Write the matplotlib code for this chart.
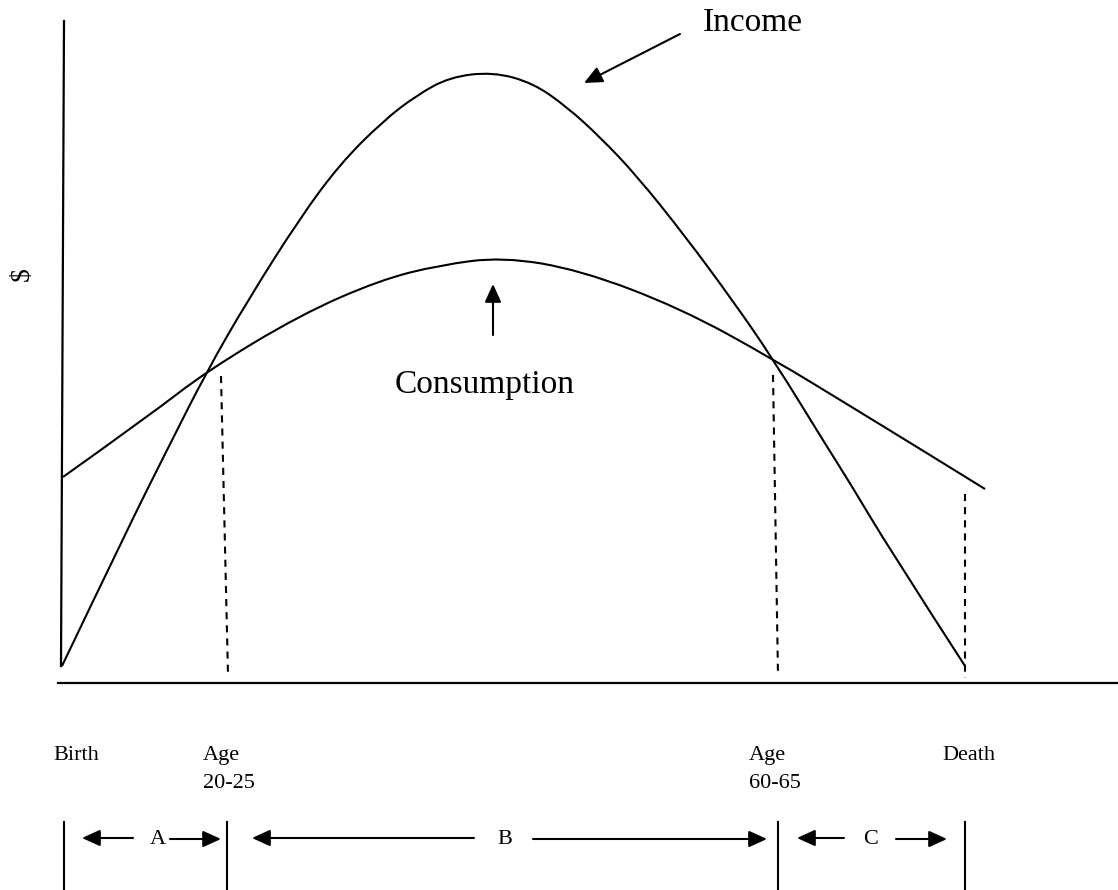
import numpy as np
import matplotlib
matplotlib.use("Agg")
import matplotlib.pyplot as plt
from matplotlib.path import Path
from matplotlib.patches import PathPatch

# life-cycle schematic, x = position along the age line, y = $ height above the axis
income_x = [62, 127, 167, 207, 248, 300, 340, 383, 417, 450, 493, 533, 567, 600, 637, 685, 733, 773, 829, 850, 890, 965]
income_y = [17, 153, 233, 312, 383, 465, 519, 562, 588, 606, 611, 600, 576, 546, 507, 447, 382, 324, 233, 200, 133, 17]

cons_x = [63, 150, 207, 300, 380, 440, 503, 580, 680, 773, 850, 917, 985]
cons_y = [206, 268, 312, 368, 403, 418, 426, 413, 375, 324, 277, 236, 194]

# dashed drop lines: (x_top, y_top, x_bottom, y_bottom)
drops = [(221, 307, 228, 8), (773, 308, 778, 8), (965, 189, 965, 5)]

stage_x = [53, 203, 749, 942]
stage_line1 = ["Birth", "Age", "Age", "Death"]
stage_line2 = ["", "20-25", "60-65", ""]

bars_x = [64, 227, 778, 965]
period_labels = ["A", "B", "C"]
period_x = [158, 505, 871]
# arrow pairs per period: (left tip, left tail, right tail, right tip)
period_arrows = [(82, 133, 170, 221), (252, 474, 533, 767), (797, 844, 896, 947)]

plt.rcParams['font.family'] = ['Liberation Serif', 'DejaVu Serif']


def smooth_curve(xs, ys):
    # quadratic spline through the read points (points used as control vertices)
    pts = list(zip(xs, ys))
    verts = [pts[0]]
    codes = [Path.MOVETO]
    for i in range(1, len(pts) - 1):
        nxt = pts[i + 1] if i == len(pts) - 2 else ((pts[i][0] + pts[i + 1][0]) / 2, (pts[i][1] + pts[i + 1][1]) / 2)
        verts += [pts[i], nxt]
        codes += [Path.CURVE3, Path.CURVE3]
    return Path(verts, codes)


fig = plt.figure(figsize=(11.18, 8.90), dpi=100)
ax = fig.add_axes([0, 0, 1, 1])
ax.set_xlim(0, 1118)
ax.set_ylim(-207, 683)
ax.axis('off')

# axes
ax.plot([64, 61], [662, 17], 'k', lw=1.6)
ax.plot([58, 1118], [0, 0], 'k', lw=1.6)
ax.text(22, 409, "$", rotation=90, fontsize=20, ha='center', va='center')

ax.add_patch(PathPatch(smooth_curve(income_x, income_y), fc='none', ec='k', lw=1.5))
ax.add_patch(PathPatch(smooth_curve(cons_x, cons_y), fc='none', ec='k', lw=1.5))

for x0, y0, x1, y1 in drops:
    ax.plot([x0, x1], [y0, y1], 'k', lw=1.5, dashes=(3.4, 2.9))

arrow_style = dict(arrowstyle='-|>,head_length=0.55,head_width=0.25', mutation_scale=20,
                   lw=1.5, color='k', shrinkA=0, shrinkB=0)

ax.text(703, 652, "Income", fontsize=24, ha='left', va='baseline')
ax.annotate('', xy=(584, 600), xytext=(680, 649), arrowprops=arrow_style)

ax.text(485, 290, "Consumption", fontsize=24, ha='center', va='baseline')
ax.annotate('', xy=(493, 399), xytext=(493, 348), arrowprops=arrow_style)

for x, l1, l2 in zip(stage_x, stage_line1, stage_line2):
    ax.text(x, -77, l1, fontsize=16, ha='left', va='baseline')
    ax.text(x, -105, l2, fontsize=16, ha='left', va='baseline')

for x in bars_x:
    ax.plot([x, x], [-139, -207], 'k', lw=1.5)

for x, lab, (lt, ltail, rtail, rt) in zip(period_x, period_labels, period_arrows):
    ax.text(x, -161, lab, fontsize=16, ha='center', va='baseline')
    ax.annotate('', xy=(lt, -155), xytext=(ltail, -155), arrowprops=arrow_style)
    ax.annotate('', xy=(rt, -156), xytext=(rtail, -156), arrowprops=arrow_style)

fig.savefig("out.png", dpi=100)
